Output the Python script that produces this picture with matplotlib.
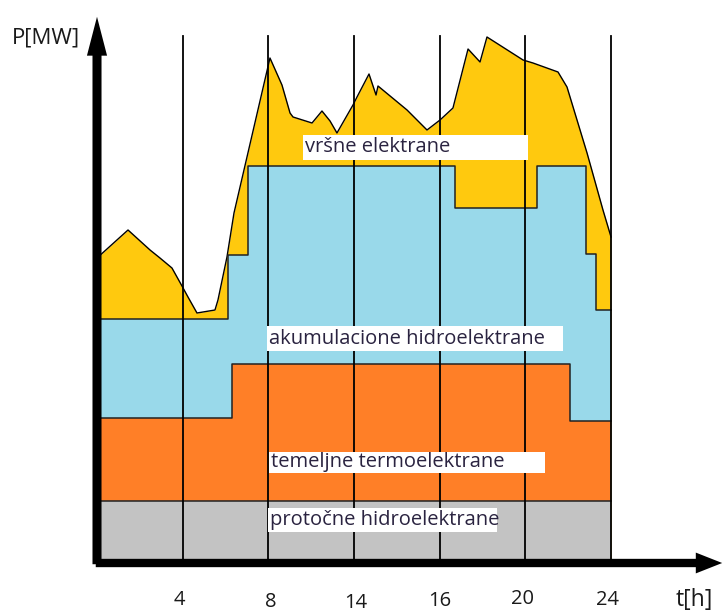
import matplotlib
matplotlib.use('Agg')
import matplotlib.pyplot as plt
from matplotlib.patches import Rectangle, FancyArrowPatch

plt.rcParams['font.family'] = ['Open Sans', 'DejaVu Sans']

# hour marks (equally spaced on the schematic time axis)
hour_labels = ['4', '8', '14', '16', '20', '24']
hour_pos = [1, 2, 3, 4, 5, 6]

# run-of-river hydro (base band)
river_top = 124

# base-load thermal plants, step profile
thermal_x = [0, 1.58, 5.52, 6]
thermal_top = [290, 398, 284, 284]

# storage hydro, step profile
storage_x = [0, 1.53, 1.76, 4.18, 5.14, 5.71, 5.83, 6]
storage_top = [488, 616, 794, 710, 794, 618, 506, 506]

# total load curve (peak plants fill up to it)
load_x = [0, 0.362, 0.619, 0.735, 0.875, 0.992, 1.062, 1.167, 1.377, 1.412,
          1.517, 1.599, 2.019, 2.159, 2.253, 2.288, 2.510, 2.626, 2.720, 2.801,
          2.988, 3.035, 3.175, 3.257, 3.280, 3.619, 3.852, 4.004, 4.155, 4.331,
          4.471, 4.552, 4.973, 5.089, 5.381, 5.486, 5.720, 5.906, 6.0]
load_y = [610, 666, 626, 610, 590, 554, 532, 500, 506, 526,
          612, 700, 1010, 956, 900, 892, 880, 904, 884, 860,
          916, 932, 978, 936, 954, 906, 866, 886, 910, 1028,
          1002, 1052, 1006, 1000, 982, 952, 820, 706, 652]

layer_names = ['vršne elektrane', 'akumulacione hidroelektrane',
               'temeljne termoelektrane', 'protočne hidroelektrane']

c_peak = '#FFC90E'
c_storage = '#99D9EA'
c_thermal = '#FF7F27'
c_river = '#C3C3C3'

fig = plt.figure(figsize=(7.26, 6.12), dpi=100)
ax = fig.add_axes([0, 0, 1, 1])
ax.set_xlim(-1.1323, 7.342)
ax.set_ylim(-98, 1126)
ax.axis('off')

# stacked areas, drawn top layer first so the lower ones cover it
ax.fill_between(load_x, 0, load_y, color=c_peak, lw=0, zorder=1)
ax.fill_between(storage_x, 0, storage_top, step='post', color=c_storage, lw=0, zorder=2)
ax.fill_between(thermal_x, 0, thermal_top, step='post', color=c_thermal, lw=0, zorder=3)
ax.fill_between([0, 6], 0, river_top, color=c_river, lw=0, zorder=4)

# outlines of each layer
ax.plot(load_x, load_y, color='black', lw=1.0, zorder=5)
ax.step(storage_x, storage_top, where='post', color='#222222', lw=1.1, zorder=5)
ax.step(thermal_x, thermal_top, where='post', color='#222222', lw=1.1, zorder=5)
ax.plot([0, 6], [river_top, river_top], color='#222222', lw=1.1, zorder=5)

# vertical hour lines
for x in hour_pos:
    ax.plot([x, x], [0, 1054], color='black', lw=1.3, zorder=6)

# white label boxes with layer names
boxes = [(2.405, 806, 2.626, 50), (1.984, 424, 3.455, 50),
         (2.008, 180, 3.221, 42), (1.996, 62, 2.673, 48)]
for (bx, by, bw, bh), name in zip(boxes, layer_names):
    ax.add_patch(Rectangle((bx, by), bw, bh, facecolor='white', edgecolor='none', zorder=7))
    ax.text(bx + 0.02, by + bh / 2, name, fontsize=14.5, color='#2a2340',
            ha='left', va='center', zorder=8)

# axes with arrow heads
ax.add_patch(FancyArrowPatch((-0.047, 0), (7.33, 0),
                             arrowstyle='simple,head_length=1.9,head_width=1.5,tail_width=0.6',
                             mutation_scale=10, color='black', lw=0, zorder=9))
ax.add_patch(FancyArrowPatch((0, -8), (0, 1098),
                             arrowstyle='simple,head_length=2.8,head_width=1.45,tail_width=0.65',
                             mutation_scale=10, color='black', lw=0, zorder=9))

# hour tick labels
tick_dx = [-0.04, 0.03, 0.02, 0.0, -0.03, -0.04]
tick_y = [-74, -78, -80, -76, -72, -74]
for x, lab, dx, y in zip(hour_pos, hour_labels, tick_dx, tick_y):
    ax.text(x + dx, y, lab, fontsize=14.5, color='#1a1a1a', ha='center', va='center')

ax.text(6.969, -74, 't[h]', fontsize=16.5, color='#1a1a1a', ha='center', va='center')
ax.text(-0.595, 1050, 'P[MW]', fontsize=16, color='#1a1a1a', ha='center', va='center')

fig.savefig('out.png', dpi=100)
